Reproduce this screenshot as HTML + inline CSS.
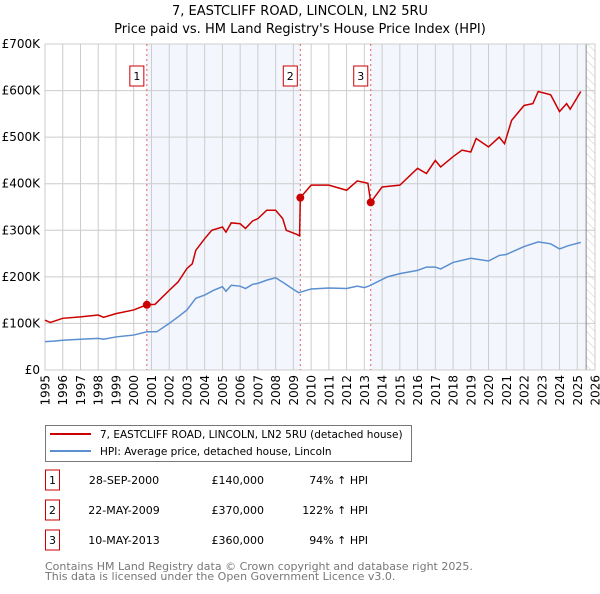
<!DOCTYPE html>
<html><head><meta charset="utf-8"><style>
body{margin:0;background:#fff;font-family:"DejaVu Sans","Liberation Sans",sans-serif;}
svg text{font-family:"DejaVu Sans","Liberation Sans",sans-serif;}
</style></head><body>
<svg id="chart" width="600" height="590" xmlns="http://www.w3.org/2000/svg">
<defs><pattern id="hatch" width="6" height="6" patternUnits="userSpaceOnUse" patternTransform="rotate(-45)"><line x1="0" y1="0" x2="0" y2="6" stroke="#ccc" stroke-width="1"/></pattern></defs>
<text x="300" y="15" text-anchor="middle" font-size="13">7, EASTCLIFF ROAD, LINCOLN, LN2 5RU</text>
<text x="300" y="33" text-anchor="middle" font-size="13">Price paid vs. HM Land Registry's House Price Index (HPI)</text>
<g id="plot"></g>
<g>
<rect x="45.5" y="425.5" width="366" height="36" fill="#fff" stroke="#777"/>
<line x1="50" y1="434" x2="91" y2="434" stroke="#cc0000" stroke-width="2"/>
<text x="100" y="438" font-size="10.5">7, EASTCLIFF ROAD, LINCOLN, LN2 5RU (detached house)</text>
<line x1="50" y1="451" x2="91" y2="451" stroke="#5b8fd0" stroke-width="2"/>
<text x="100" y="455" font-size="10.5">HPI: Average price, detached house, Lincoln</text>
</g>
<g id="table" font-size="11"></g>
<text x="45" y="570" font-size="11" fill="#777">Contains HM Land Registry data © Crown copyright and database right 2025.</text>
<text x="45" y="580" font-size="11" fill="#777">This data is licensed under the Open Government Licence v3.0.</text>
</svg>
<script>
const hpiYears=[1995,1995.5,1996,1997,1998,1998.3,1999,2000,2000.75,2001.3,2002,2002.5,2003,2003.5,2004,2004.5,2005,2005.2,2005.5,2006,2006.3,2006.7,2007,2007.5,2008,2008.5,2009,2009.3,2010,2011,2012,2012.6,2013,2013.3,2014.3,2015,2016,2016.5,2017,2017.3,2018,2019,2020,2020.6,2021,2022,2022.8,2023.5,2024,2024.5,2025.2];
const hpiValues=[61,62,64,66,68,66,71,75,82,82,100,114,129,154,161,171,179,169,182,180,175,184,186,193,198,186,173,166,174,176,175,180,177,181,200,207,214,221,221,217,231,240,234,246,248,265,275,271,260,267,274];
const redYears=[1995,1995.3,1996,1997,1998,1998.3,1999,2000,2000.74,2001.2,2002,2002.5,2003,2003.3,2003.5,2004,2004.4,2005,2005.2,2005.5,2006,2006.3,2006.7,2007,2007.5,2008,2008.4,2008.6,2009.2,2009.35,2009.39,2010,2011,2012,2012.6,2013.2,2013.36,2014,2015,2016,2016.5,2017,2017.3,2018,2018.5,2019,2019.3,2020,2020.6,2020.9,2021.3,2022,2022.5,2022.8,2023.5,2024,2024.4,2024.6,2025.2];
const redValues=[107,102,111,114,118,113,121,129,140,141,171,189,218,228,257,282,300,307,296,316,314,304,320,325,343,343,325,300,291,288,370,397,397,386,406,401,360,393,397,433,422,450,436,458,472,468,497,479,500,486,536,568,572,598,591,555,572,560,598];
const saleYears=[2000.74,2009.39,2013.36];
const saleValues=[140,370,360];
const saleLabels=["1","2","3"];
const saleDates=["28-SEP-2000","22-MAY-2009","10-MAY-2013"];
const salePrices=["£140,000","£370,000","£360,000"];
const saleHpi=["74% ↑ HPI","122% ↑ HPI","94% ↑ HPI"];
const yTicks=[0,100,200,300,400,500,600,700];
const yTickLabels=["£0","£100K","£200K","£300K","£400K","£500K","£600K","£700K"];
const xTicks=[];for(let y=1995;y<=2026;y++)xTicks.push(y);

const L=45,R=595,T=44,B=370;
const X=y=>L+(y-1995)*(R-L)/31;
const Y=v=>B-v*(B-T)/700;
const NS="http://www.w3.org/2000/svg";
const plot=document.getElementById('plot');
function mk(tag,attrs,parent){const e=document.createElementNS(NS,tag);for(const k in attrs)e.setAttribute(k,attrs[k]);(parent||plot).appendChild(e);return e;}
let e;
e=mk('rect',{x:L,y:T,width:R-L,height:B-T,fill:'#fff'});


e=mk('rect',{x:X(saleYears[0]),y:T,width:X(saleYears[1])-X(saleYears[0]),height:B-T,fill:'#eef3fc',opacity:0.7});


e=mk('rect',{x:X(saleYears[2]),y:T,width:X(2025.5)-X(saleYears[2]),height:B-T,fill:'#eef3fc',opacity:0.7});


e=mk('rect',{x:X(2025.5),y:T,width:R-X(2025.5),height:B-T,fill:'url(#hatch)'});


xTicks.forEach(t=>{
 e=mk('line',{x1:X(t),x2:X(t),y1:T,y2:B,stroke:'#ccc','stroke-width':1});
 
 
 e=mk('text',{x:0,y:0,'text-anchor':'end','font-size':12,transform:'translate('+(X(t)+4.5)+',375) rotate(-90)'});
 e.textContent=t;
 
 
});
yTicks.forEach((t,i)=>{
 e=mk('line',{x1:L,x2:R,y1:Y(t),y2:Y(t),stroke:'#ccc','stroke-width':1});
 
 
 e=mk('text',{x:40,y:Y(t)+4,'text-anchor':'end','font-size':12});
 e.textContent=yTickLabels[i];
 
 
});
e=mk('line',{x1:X(2025.5),x2:X(2025.5),y1:T,y2:B,stroke:'#888'});


e=mk('rect',{x:L,y:T,width:R-L,height:B-T,fill:'none',stroke:'#ccc'});


saleYears.forEach((s,i)=>{
 e=mk('line',{x1:X(s),x2:X(s),y1:T,y2:B,stroke:'#e06060','stroke-dasharray':'2,3'});
 
 
 e=mk('rect',{x:X(s)-17,y:66,width:14,height:20,fill:'#fff',stroke:'#cc0000'});
 
 
 e=mk('text',{x:X(s)-10,y:80,'text-anchor':'middle','font-size':11});
 e.textContent=saleLabels[i];
 
 
});
e=mk('polyline',{points:hpiYears.map((y,i)=>X(y)+','+Y(hpiValues[i])).join(' '),fill:'none',stroke:'#5b8fd0','stroke-width':1.5});


e=mk('polyline',{points:redYears.map((y,i)=>X(y)+','+Y(redValues[i])).join(' '),fill:'none',stroke:'#cc0000','stroke-width':1.5});


saleYears.forEach((s,i)=>{
 e=mk('circle',{cx:X(s),cy:Y(saleValues[i]),r:4,fill:'#cc0000'});
 
 
});
const tb=document.getElementById('table');
saleYears.forEach((s,i)=>{
 const y=483+i*30;
 e=mk('rect',{x:45.5,y:y-13,width:14,height:20,fill:'#fff',stroke:'#cc0000'},tb);
 
 
 e=mk('text',{x:52.5,y:y+1,'text-anchor':'middle'},tb);e.textContent=saleLabels[i];
 
 
 e=mk('text',{x:124,y:y+1,'text-anchor':'middle'},tb);e.textContent=saleDates[i];
 
 
 e=mk('text',{x:264,y:y+1,'text-anchor':'end'},tb);e.textContent=salePrices[i];
 
 
 e=mk('text',{x:368,y:y+1,'text-anchor':'end'},tb);e.textContent=saleHpi[i];
 
 
});
</script>
</body></html>
